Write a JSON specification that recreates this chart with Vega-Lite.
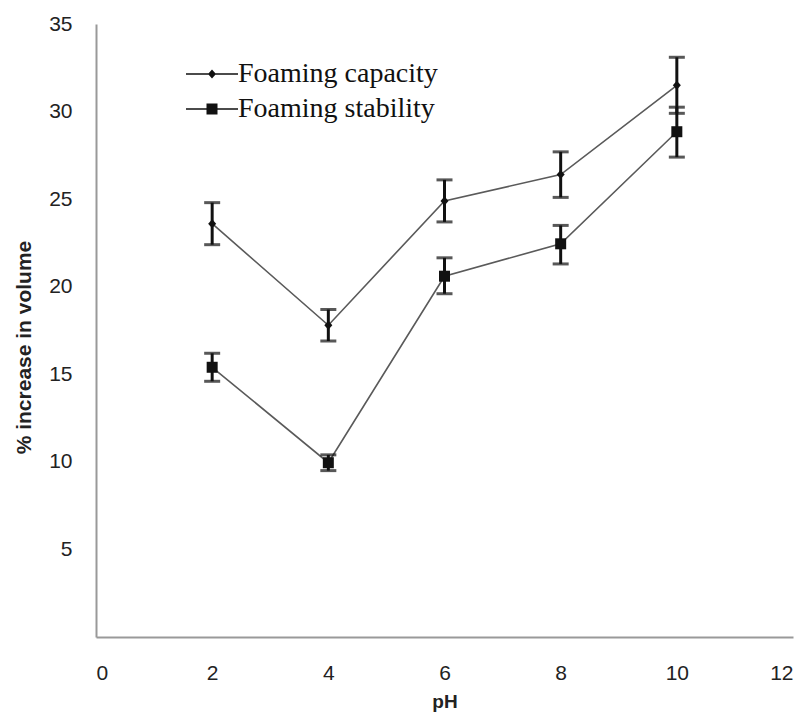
{
  "$schema": "https://vega.github.io/schema/vega-lite/v6.json",
  "width": 697,
  "height": 613,
  "autosize": "none",
  "padding": {"left": 96, "top": 24, "right": 18, "bottom": 83},
  "background": "white",
  "config": {"view": {"stroke": null}},
  "data": {
    "values": [
      {"ph": 2, "series": "Foaming capacity", "value": 23.6, "lo": 22.4, "hi": 24.8},
      {"ph": 4, "series": "Foaming capacity", "value": 17.8, "lo": 16.9, "hi": 18.7},
      {"ph": 6, "series": "Foaming capacity", "value": 24.9, "lo": 23.7, "hi": 26.1},
      {"ph": 8, "series": "Foaming capacity", "value": 26.4, "lo": 25.1, "hi": 27.7},
      {"ph": 10, "series": "Foaming capacity", "value": 31.5, "lo": 29.9, "hi": 33.1},
      {"ph": 2, "series": "Foaming stability", "value": 15.4, "lo": 14.6, "hi": 16.2},
      {"ph": 4, "series": "Foaming stability", "value": 9.95, "lo": 9.5, "hi": 10.4},
      {"ph": 6, "series": "Foaming stability", "value": 20.6, "lo": 19.6, "hi": 21.65},
      {"ph": 8, "series": "Foaming stability", "value": 22.45, "lo": 21.3, "hi": 23.5},
      {"ph": 10, "series": "Foaming stability", "value": 28.85, "lo": 27.4, "hi": 30.25}
    ]
  },
  "encoding": {
    "x": {
      "field": "ph", "type": "quantitative",
      "scale": {"domain": [0, 12], "nice": false},
      "axis": {
        "title": "pH", "values": [0, 2, 4, 6, 8, 10, 12], "grid": false, "ticks": false,
        "domainColor": "#999999", "domainWidth": 2,
        "labelFont": "Liberation Sans", "labelFontSize": 21, "labelColor": "#222222", "labelPadding": 25,
        "titleFont": "Liberation Sans", "titleFontSize": 19, "titleFontWeight": "bold", "titleColor": "#222222", "titlePadding": 9
      }
    },
    "y": {
      "field": "value", "type": "quantitative",
      "scale": {"domain": [0, 35], "nice": false},
      "axis": {
        "title": "% increase in volume", "values": [0, 5, 10, 15, 20, 25, 30, 35], "grid": false, "ticks": false,
        "labelExpr": "datum.value == 0 ? '' : datum.label",
        "domainColor": "#999999", "domainWidth": 2,
        "labelFont": "Liberation Sans", "labelFontSize": 21, "labelColor": "#222222", "labelPadding": 24,
        "titleFont": "Liberation Sans", "titleFontSize": 21, "titleFontWeight": "bold", "titleColor": "#222222", "titlePadding": 14,
        "titleY": 323
      }
    }
  },
  "resolve": {"scale": {"shape": "independent"}, "legend": {"shape": "independent"}},
  "layer": [
    {
      "mark": {"type": "line", "stroke": "#5a5a5a", "strokeWidth": 1.6},
      "encoding": {"detail": {"field": "series"}}
    },
    {
      "mark": {"type": "rule", "stroke": "#111111", "strokeWidth": 3},
      "encoding": {"y": {"field": "lo", "type": "quantitative"}, "y2": {"field": "hi"}}
    },
    {
      "mark": {"type": "tick", "color": "#111111", "orient": "horizontal", "size": 16, "thickness": 3},
      "encoding": {"y": {"field": "lo", "type": "quantitative"}}
    },
    {
      "mark": {"type": "tick", "color": "#111111", "orient": "horizontal", "size": 16, "thickness": 3},
      "encoding": {"y": {"field": "hi", "type": "quantitative"}}
    },
    {
      "mark": {"type": "point", "filled": true, "opacity": 0, "fill": "#111111", "size": 100},
      "encoding": {
        "shape": {
          "field": "series", "type": "nominal",
          "scale": {"domain": ["Foaming capacity", "Foaming stability"], "range": ["M-5.2,-0.16H5.2V0.16H-5.2Z M0,-0.9L0.8,0L0,0.9L-0.8,0Z", "M-5.2,-0.16H5.2V0.16H-5.2Z M-1.1,-1.1H1.1V1.1H-1.1Z"]},
          "legend": {
            "title": null, "orient": "none", "legendX": 102, "legendY": 36, "padding": 0,
            "symbolSize": 100, "symbolOpacity": 1, "symbolFillColor": "#111111", "symbolStrokeWidth": 0,
            "labelFont": "Liberation Serif", "labelFontSize": 28, "labelColor": "#111111", "labelOffset": 12,
            "labelLimit": 400, "rowPadding": 7, "symbolOffset": 0
          }
        }
      }
    },
    {
      "mark": {"type": "point", "filled": true, "opacity": 1, "fill": "#111111", "size": 100},
      "encoding": {
        "shape": {
          "field": "series", "type": "nominal",
          "scale": {"domain": ["Foaming capacity", "Foaming stability"], "range": ["M0,-0.9L0.8,0L0,0.9L-0.8,0Z", "M-1.1,-1.1H1.1V1.1H-1.1Z"]},
          "legend": null
        }
      }
    }
  ]
}
